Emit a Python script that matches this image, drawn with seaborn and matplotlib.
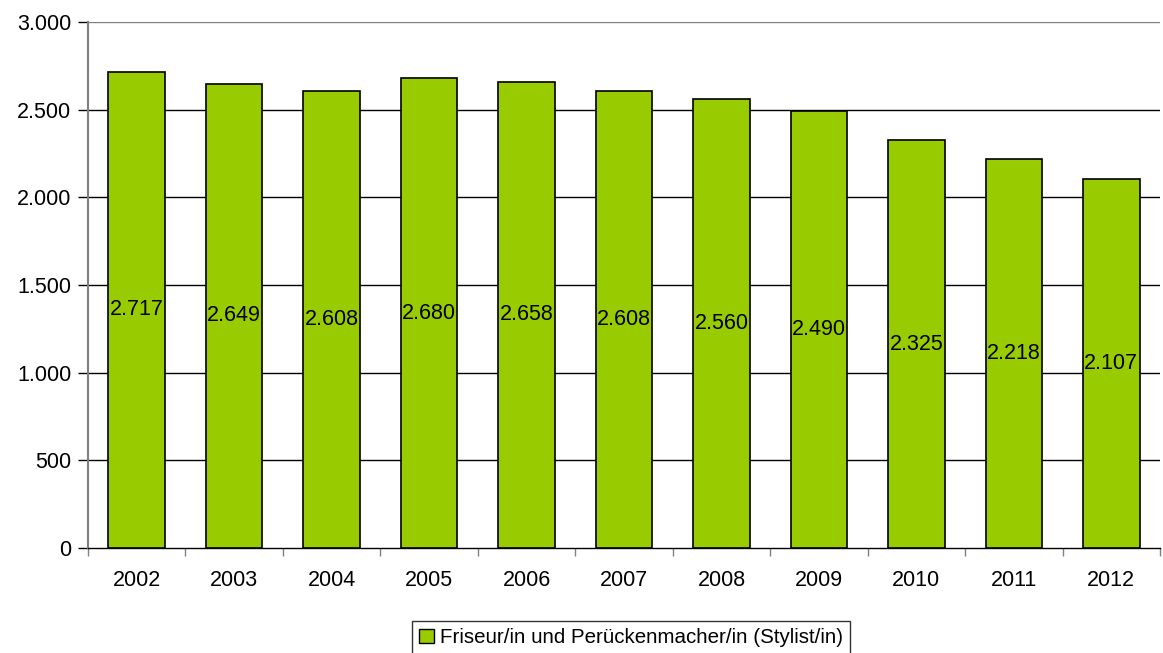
import matplotlib
matplotlib.use("Agg")
import matplotlib.pyplot as plt
import seaborn as sns
import pandas as pd
from matplotlib.ticker import FuncFormatter, FixedLocator
from matplotlib.patches import Patch

years = ["2002", "2003", "2004", "2005", "2006", "2007", "2008", "2009", "2010", "2011", "2012"]
values = [2717, 2649, 2608, 2680, 2658, 2608, 2560, 2490, 2325, 2218, 2107]
series_name = "Friseur/in und Perückenmacher/in (Stylist/in)"
yticks = [0, 500, 1000, 1500, 2000, 2500, 3000]

sns.set_style("white")
plt.rcParams['font.family'] = ['Liberation Sans', 'DejaVu Sans']
plt.rcParams['text.color'] = 'black'
plt.rcParams['xtick.labelcolor'] = 'black'
plt.rcParams['ytick.labelcolor'] = 'black'

df = pd.DataFrame({"year": years, "value": values})

fig = plt.figure(figsize=(11.63, 6.53), dpi=100)
ax = fig.add_axes([88/1163, 1-548/653, (1160-88)/1163, (548-22)/653])

sns.barplot(data=df, x="year", y="value", color="#99CC00", edgecolor="black",
            linewidth=1.2, width=0.58, saturation=1, ax=ax, zorder=3)

ax.set_ylim(0, 3000)
ax.set_xlim(-0.5, len(years) - 0.5)
ax.set_yticks(yticks)
ax.yaxis.set_major_formatter(FuncFormatter(lambda v, p: f"{int(v):,}".replace(",", ".")))
for t in yticks[1:]:
    ax.axhline(t, color="black" if t < 3000 else "#808080", linewidth=1, zorder=1)

ax.set_xlabel("")
ax.set_ylabel("")
for s in ["top", "right"]:
    ax.spines[s].set_visible(False)
ax.spines["left"].set_color("#808080")
ax.spines["left"].set_linewidth(1.5)
ax.spines["bottom"].set_color("black")
ax.spines["bottom"].set_linewidth(1)

ax.tick_params(axis="y", which="major", length=7, width=1, color="black", labelsize=15.5, pad=5, direction="out", left=True)
ax.tick_params(axis="x", which="major", length=0, labelsize=15.5, pad=16)
ax.xaxis.set_minor_locator(FixedLocator([i - 0.5 for i in range(len(years) + 1)]))
ax.tick_params(axis="x", which="minor", length=6, width=1, color="#808080", direction="out", bottom=True)

for i, v in enumerate(values):
    ax.text(i, v / 2, f"{v:,}".replace(",", "."), ha="center", va="center", fontsize=15.5, color="black", zorder=4)

handle = Patch(facecolor="#99CC00", edgecolor="black", linewidth=1)
fig.legend([handle], [series_name], loc="upper center", bbox_to_anchor=(631/1163, 1-621/653),
           frameon=True, fancybox=False, edgecolor="black", fontsize=14.8,
           handlelength=0.7, handleheight=0.7, handletextpad=0.3, borderpad=0.35,
           borderaxespad=0)

fig.savefig("out.png", dpi=100)
